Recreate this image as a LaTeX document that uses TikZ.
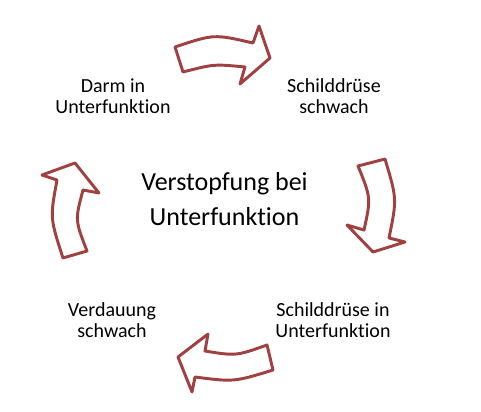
\documentclass[tikz,border=0pt]{standalone}
\usepackage{fontspec}
\setmainfont{Carlito}[Ligatures={NoCommon}]
\definecolor{arrowred}{RGB}{160,64,64}
\begin{document}
\begin{tikzpicture}[x=0.75pt, y=-0.75pt,
  every node/.style={align=center, inner sep=0pt, font=\fontsize{15}{16}\selectfont},
  cyclearrow/.style={draw=arrowred, fill=white, line width=2.2pt, line join=round}]
  \useasboundingbox (0,0) rectangle (481,411);
  \node[font=\fontsize{19.5}{26.5}\selectfont] (centre) at (224.5,199) {Verstopfung bei\\Unterfunktion};
  \node (darm) at (113,96) {Darm in\\Unterfunktion};
  \node (schwach) at (334,96) {Schilddrüse\\schwach};
  \node (unter) at (333,320) {Schilddrüse in\\Unterfunktion};
  \node (verdauung) at (112,320) {Verdauung\\schwach};
  \draw[cyclearrow] (175,47) .. controls (214,34) .. (253,43) -- (259,26) -- (270,58)
    -- (240,84) -- (245,67) .. controls (214,64) .. (183,72) -- cycle;
  \draw[cyclearrow] (358,166) -- (385,159) .. controls (397,199) .. (389,238) -- (405,242)
    -- (373,252) -- (347,225) -- (364,230) .. controls (371,198) .. (358,166) -- cycle;
  \draw[cyclearrow] (267,345) -- (273,370) .. controls (234,382) .. (195,377) -- (192,392)
    -- (178,357) -- (208,334) -- (205,351) .. controls (236,356) .. (267,345) -- cycle;
  \draw[cyclearrow] (63,258) -- (87,251) .. controls (75,220) .. (83,190) -- (99,193)
    -- (75,163) -- (42,175) -- (57,180) .. controls (50,218) .. (63,258) -- cycle;
\end{tikzpicture}
\end{document}
